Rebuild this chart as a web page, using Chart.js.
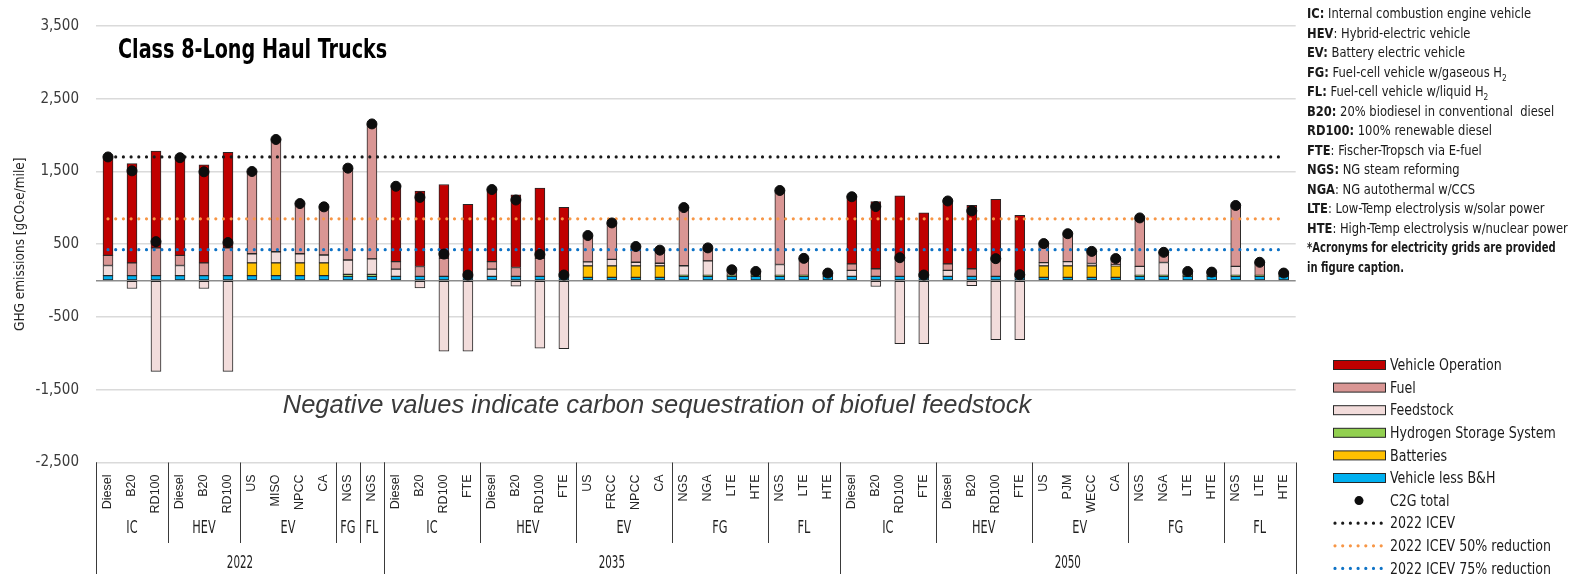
<!DOCTYPE html>
<html>
<head>
<meta charset="utf-8">
<script src="https://cdn.jsdelivr.net/npm/chart.js@4.4.1/dist/chart.umd.min.js"></script>
<style>
    html, body { margin: 0; padding: 0; background: #fff; }
    #wrap { position: relative; width: 1577px; height: 574px; }
    #chart { position: absolute; left: 0; top: 0; }
    .narrow { font-family: 'Liberation Sans Narrow', 'Arial Narrow', 'DejaVu Sans Condensed', sans-serif; white-space: nowrap; }
    #title { position: absolute; left: 118px; top: 35px; font-size: 27px; line-height: 1; font-weight: bold; color: #000;
        transform: scaleX(0.79); transform-origin: left top; }
    #note { position: absolute; left: 157px; width: 1000px; top: 390px; text-align: center;
        font-family: 'Liberation Sans', Arial, sans-serif; font-style: italic; font-size: 25.5px; color: #3a3a3a; }
    #abbr { position: absolute; left: 1307px; top: 4px; font-size: 14px; line-height: 19.5px; color: #1a1a1a;
        transform: scaleX(0.915); transform-origin: left top; }
    #abbr b { font-weight: bold; }
    #abbr sub { font-size: 9px; line-height: 0; }
    #abbr .tight { transform: scaleX(0.87); transform-origin: left top; }
</style>
</head>
<body>
<div id="wrap">
    <canvas id="chart" width="1577" height="574"></canvas>
    <div id="title" class="narrow">Class 8-Long Haul Trucks</div>
    <div id="note">Negative values indicate carbon sequestration of biofuel feedstock</div>
    <div id="abbr" class="narrow">
        <div><b>IC:</b> Internal combustion engine vehicle</div>
        <div><b>HEV</b>: Hybrid-electric vehicle</div>
        <div><b>EV:</b> Battery electric vehicle</div>
        <div><b>FG:</b> Fuel-cell vehicle w/gaseous H<sub>2</sub></div>
        <div><b>FL:</b> Fuel-cell vehicle w/liquid H<sub>2</sub></div>
        <div><b>B20:</b> 20% biodiesel in conventional&nbsp; diesel</div>
        <div><b>RD100:</b> 100% renewable diesel</div>
        <div><b>FTE</b>: Fischer-Tropsch via E-fuel</div>
        <div><b>NGS:</b> NG steam reforming</div>
        <div><b>NGA</b>: NG autothermal w/CCS</div>
        <div><b>LTE</b>: Low-Temp electrolysis w/solar power</div>
        <div><b>HTE</b>: High-Temp electrolysis w/nuclear power</div>
        <div class="tight"><b>*Acronyms for electricity grids are provided</b></div>
        <div class="tight"><b>in figure caption.</b></div>
    </div>
</div>
<script>
    const NARROW = "'Liberation Sans Narrow', 'Arial Narrow', 'DejaVu Sans Condensed', sans-serif"

    // Подписи категорий
    const subLabels = [
        'Diesel', 'B20', 'RD100', 'Diesel', 'B20', 'RD100', 'US', 'MISO', 'NPCC', 'CA', 'NGS', 'NGS',
        'Diesel', 'B20', 'RD100', 'FTE', 'Diesel', 'B20', 'RD100', 'FTE', 'US', 'FRCC', 'NPCC', 'CA',
        'NGS', 'NGA', 'LTE', 'HTE', 'NGS', 'LTE', 'HTE',
        'Diesel', 'B20', 'RD100', 'FTE', 'Diesel', 'B20', 'RD100', 'FTE', 'US', 'PJM', 'WECC', 'CA',
        'NGS', 'NGA', 'LTE', 'HTE', 'NGS', 'LTE', 'HTE'
    ]
    const groupNames = ['IC', 'HEV', 'EV', 'FG', 'FL', 'IC', 'HEV', 'EV', 'FG', 'FL', 'IC', 'HEV', 'EV', 'FG', 'FL']
    const groupSizes = [3, 3, 4, 1, 1, 4, 4, 4, 4, 3, 4, 4, 4, 4, 3]
    const yearNames = ['2022', '2035', '2050']
    const yearSizes = [12, 19, 19]

    // Значения (gCO2e/mile)
    const vehicleLessBH = [
        68, 68, 68, 68, 68, 68, 68, 68, 68, 68, 59, 59,
        59, 59, 59, 59, 59, 59, 59, 59, 45, 45, 45, 45, 59, 59, 59, 59, 59, 59, 59,
        59, 59, 59, 59, 59, 59, 59, 59, 45, 45, 45, 45, 59, 59, 59, 59, 59, 59, 59
    ]
    const batteries = [
        0, 0, 0, 0, 0, 0, 176, 176, 176, 176, 0, 0,
        0, 0, 0, 0, 0, 0, 0, 0, 158, 158, 158, 158, 0, 0, 0, 0, 0, 0, 0,
        0, 0, 0, 0, 0, 0, 0, 0, 158, 158, 158, 158, 0, 0, 0, 0, 0, 0, 0
    ]
    const h2Storage = [
        0, 0, 0, 0, 0, 0, 0, 0, 0, 0, 27, 27,
        0, 0, 0, 0, 0, 0, 0, 0, 0, 0, 0, 0, 14, 14, 14, 14, 14, 14, 14,
        0, 0, 0, 0, 0, 0, 0, 0, 0, 0, 0, 0, 14, 14, 14, 14, 14, 14, 14
    ]
    const feedstock = [
        140, -108, -1248, 140, -108, -1248, 126, 153, 126, 108, 198, 212,
        99, -99, -968, -968, 99, -77, -928, -937, 54, 90, 50, 36, 131, 198, 0, 0, 149, 0, 0,
        81, -81, -865, -865, 81, -68, -811, -811, 45, 59, 32, 14, 122, 176, 0, 0, 122, 0, 0
    ]
    const fuel = [
        140, 176, 383, 140, 176, 383, 1131, 1554, 689, 662, 1261, 1856,
        104, 135, 248, 0, 104, 122, 248, 0, 356, 500, 216, 180, 802, 180, 77, 54, 1018, 234, 31,
        90, 104, 225, 0, 90, 104, 225, 0, 270, 383, 167, 86, 667, 140, 53, 44, 838, 180, 31
    ]
    const vehicleOperation = [
        1369, 1365, 1329, 1347, 1347, 1311, 0, 0, 0, 0, 0, 0,
        1050, 1036, 1014, 991, 1000, 1000, 964, 950, 0, 0, 0, 0, 0, 0, 0, 0, 0, 0, 0,
        932, 923, 883, 874, 869, 873, 833, 837, 0, 0, 0, 0, 0, 0, 0, 0, 0, 0, 0
    ]
    const c2gTotal = [
        1700, 1509, 536, 1690, 1496, 523, 1500, 1940, 1059, 1014, 1546, 2154,
        1297, 1144, 365, 77, 1252, 1108, 360, 77, 620, 793, 469, 419, 1004, 450, 149, 126, 1239, 306, 104,
        1153, 1018, 315, 77, 1095, 959, 302, 81, 509, 645, 402, 303, 862, 389, 126, 117, 1033, 252, 104
    ]
    const icev2022 = 1700
    const icev2022Half = 850
    const icev2022Quarter = 425

    const legendOrder = ['Vehicle Operation', 'Fuel', 'Feedstock', 'Hydrogen Storage System', 'Batteries',
        'Vehicle less B&H', 'C2G total', '2022 ICEV', '2022 ICEV 50% reduction', '2022 ICEV 75% reduction']

    const bar = (label, data, color) => ({
        type: 'bar', label, data, backgroundColor: color, borderColor: '#262626', borderWidth: 1,
        borderSkipped: false, barThickness: 10, stack: 'total', order: 2
    })
    const dotted = (label, value, color) => ({
        type: 'line', label, data: subLabels.map(() => value), borderColor: color, borderWidth: 3.2,
        borderDash: [0, 7.7], borderCapStyle: 'round', pointRadius: 0, tension: 0, fill: false,
        stack: label, order: 1
    })

    // сжатый текст (узкого шрифта нет)
    function narrowText(ctx, text, x, y, sx) {
        ctx.save()
        ctx.translate(x, y)
        ctx.scale(sx, 1)
        ctx.fillText(text, 0, 0)
        ctx.restore()
    }

    // Подписи групп и годов под осью X
    const groupRows = {
        id: 'groupRows',
        afterDraw(chart) {
            const {ctx, chartArea: a, scales: {x}} = chart
            const half = (x.getPixelForValue(1) - x.getPixelForValue(0)) / 2
            const edge = i => Math.round(x.getPixelForValue(i) - half) + 0.5
            ctx.save()
            ctx.strokeStyle = '#3a3a3a'
            ctx.lineWidth = 1
            ctx.fillStyle = '#1f1f1f'
            ctx.textAlign = 'center'
            ctx.textBaseline = 'middle'
            ctx.font = `18.5px ${NARROW}`
            let start = 0
            groupNames.forEach((name, g) => {
                const end = start + groupSizes[g]
                ctx.beginPath()
                ctx.moveTo(edge(start), a.bottom)
                ctx.lineTo(edge(start), 543)
                ctx.stroke()
                narrowText(ctx, name, (x.getPixelForValue(start) + x.getPixelForValue(end - 1)) / 2, 528, 0.68)
                start = end
            })
            start = 0
            yearNames.forEach((name, k) => {
                const end = start + yearSizes[k]
                ctx.beginPath()
                ctx.moveTo(edge(start), a.bottom)
                ctx.lineTo(edge(start), 574)
                ctx.stroke()
                narrowText(ctx, name, (x.getPixelForValue(start) + x.getPixelForValue(end - 1)) / 2, 563, 0.62)
                start = end
            })
            ctx.beginPath()
            ctx.moveTo(edge(subLabels.length), a.bottom)
            ctx.lineTo(edge(subLabels.length), 574)
            ctx.stroke()
            ctx.restore()
        }
    }

    // Легенда справа внизу
    const sideLegend = {
        id: 'sideLegend',
        afterDraw(chart) {
            const ctx = chart.ctx
            const x0 = 1333, y0 = 365, step = 22.6, w = 52
            ctx.save()
            ctx.textBaseline = 'middle'
            ctx.textAlign = 'left'
            ctx.font = `16.5px ${NARROW}`
            legendOrder.forEach((label, k) => {
                const ds = chart.data.datasets.find(d => d.label === label)
                const y = y0 + k * step
                if (ds.type === 'bar') {
                    ctx.fillStyle = ds.backgroundColor
                    ctx.fillRect(x0, y - 4.5, w, 9)
                    ctx.strokeStyle = '#262626'
                    ctx.lineWidth = 1
                    ctx.strokeRect(x0 + 0.5, y - 4.5, w, 9)
                } else if (ds.showLine === false) {
                    ctx.fillStyle = ds.backgroundColor
                    ctx.beginPath()
                    ctx.arc(x0 + w / 2, y, 4.5, 0, Math.PI * 2)
                    ctx.fill()
                } else {
                    ctx.strokeStyle = ds.borderColor
                    ctx.lineWidth = ds.borderWidth
                    ctx.lineCap = 'round'
                    ctx.setLineDash(ds.borderDash)
                    ctx.beginPath()
                    ctx.moveTo(x0 + 2, y)
                    ctx.lineTo(x0 + w, y)
                    ctx.stroke()
                    ctx.setLineDash([])
                }
                ctx.fillStyle = '#1a1a1a'
                narrowText(ctx, label, 1390, y + 1, 0.85)
            })
            ctx.restore()
        }
    }

    const ctx = document.getElementById('chart').getContext('2d')
    new Chart(ctx, {
        data: {
            labels: subLabels,
            datasets: [
                {
                    type: 'line', label: 'C2G total', data: c2gTotal, showLine: false, pointRadius: 5,
                    pointHoverRadius: 5, backgroundColor: '#0d0d0d', borderColor: '#0d0d0d', stack: 'c2g', order: 0
                },
                dotted('2022 ICEV', icev2022, '#1a1a1a'),
                dotted('2022 ICEV 50% reduction', icev2022Half, '#F79646'),
                dotted('2022 ICEV 75% reduction', icev2022Quarter, '#0F73C6'),
                bar('Vehicle less B&H', vehicleLessBH, '#00B0F0'),
                bar('Batteries', batteries, '#FFC000'),
                bar('Hydrogen Storage System', h2Storage, '#92D050'),
                bar('Feedstock', feedstock, '#F2DCDB'),
                bar('Fuel', fuel, '#D99694'),
                bar('Vehicle Operation', vehicleOperation, '#C00000')
            ]
        },
        options: {
            responsive: false,
            animation: false,
            devicePixelRatio: 1,
            layout: {padding: {top: 18.5, right: 281.3, left: 0, bottom: 0}},
            plugins: {legend: {display: false}, tooltip: {enabled: false}},
            scales: {
                x: {
                    stacked: true,
                    grid: {display: false},
                    border: {display: false},
                    ticks: {
                        autoSkip: false, minRotation: 90, maxRotation: 90, padding: 4, color: '#262626',
                        font: {family: "'Liberation Sans', Arial, sans-serif", size: 12.5}
                    },
                    afterFit: s => { s.height = 111.5 }
                },
                y: {
                    stacked: true,
                    min: -2500,
                    max: 3500,
                    ticks: {
                        stepSize: 1000, padding: 17, color: '#3a3a3a',
                        font: {family: NARROW, size: 15},
                        callback: v => v === 0 ? '' : v.toLocaleString('en-US')
                    },
                    afterBuildTicks: s => {
                        s.ticks.push({value: 0})
                        s.ticks.sort((a, b) => a.value - b.value)
                    },
                    grid: {
                        drawTicks: false, lineWidth: 1.6,
                        color: c => c.tick && c.tick.value === 0 ? '#8c8c8c' : '#dadada'
                    },
                    border: {display: false},
                    title: {
                        display: true, text: 'GHG emissions [gCO₂e/mile]', color: '#262626',
                        font: {family: NARROW, size: 13.5}, padding: {top: 12, bottom: 0}
                    },
                    afterFit: s => { s.width = 96 }
                }
            }
        },
        plugins: [groupRows, sideLegend]
    })
</script>
</body>
</html>
